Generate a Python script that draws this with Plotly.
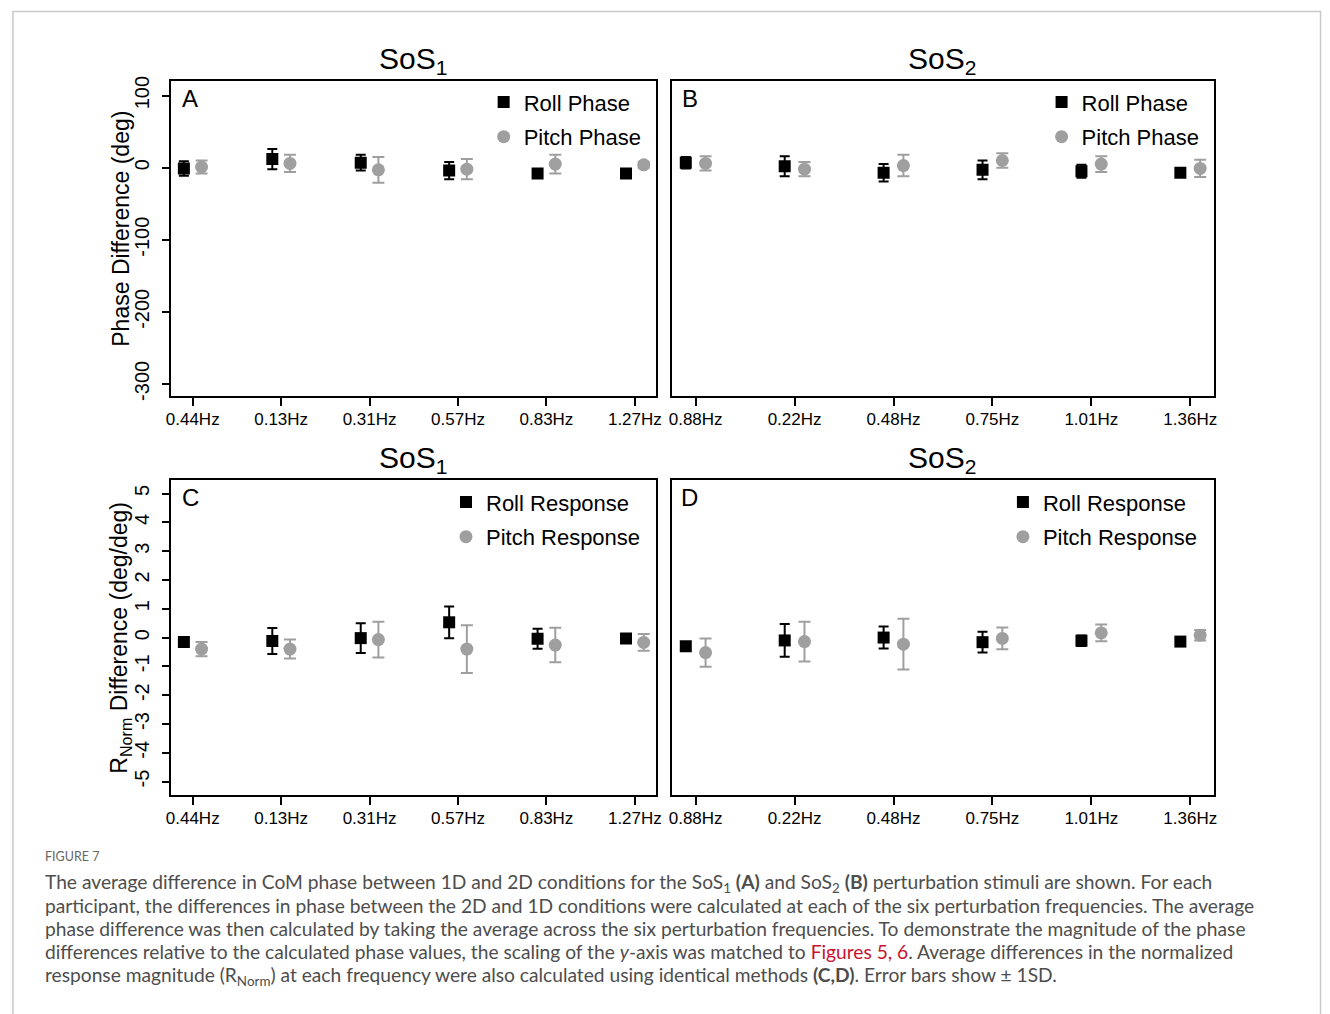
import plotly.graph_objects as go

# ---- data -------------------------------------------------------------
freq_sos1 = ["0.44Hz", "0.13Hz", "0.31Hz", "0.57Hz", "0.83Hz", "1.27Hz"]
freq_sos2 = ["0.88Hz", "0.22Hz", "0.48Hz", "0.75Hz", "1.01Hz", "1.36Hz"]
positions = [1, 2, 3, 4, 5, 6]

# Phase difference (deg), mean and SD
phase_roll_sos1 = [-1, 12, 7, -4, -8, -8]
phase_roll_sos1_sd = [10, 14, 11, 12, 3, 2]
phase_pitch_sos1 = [1, 6, -3, -2, 5, 4]
phase_pitch_sos1_sd = [9, 12, 18, 14, 13, 4]

phase_roll_sos2 = [7, 2, -7, -3, -5, -7]
phase_roll_sos2_sd = [8, 14, 12, 13, 9, 3]
phase_pitch_sos2 = [6, -2, 3, 10, 5, -1]
phase_pitch_sos2_sd = [10, 10, 15, 10, 11, 12]

# R_Norm difference (deg/deg), mean and SD
resp_roll_sos1 = [-0.15, -0.12, -0.02, 0.53, -0.04, -0.03]
resp_roll_sos1_sd = [0.10, 0.45, 0.52, 0.55, 0.35, 0.05]
resp_pitch_sos1 = [-0.40, -0.40, -0.07, -0.40, -0.26, -0.17]
resp_pitch_sos1_sd = [0.25, 0.33, 0.62, 0.83, 0.60, 0.29]

resp_roll_sos2 = [-0.30, -0.10, 0.00, -0.16, -0.11, -0.14]
resp_roll_sos2_sd = [0.10, 0.57, 0.38, 0.36, 0.18, 0.05]
resp_pitch_sos2 = [-0.52, -0.14, -0.23, -0.03, 0.16, 0.08]
resp_pitch_sos2_sd = [0.49, 0.69, 0.88, 0.38, 0.29, 0.18]

phase_ticks = [-300, -200, -100, 0, 100]
resp_ticks = [-5, -4, -3, -2, -1, 0, 1, 2, 3, 4, 5]

# ---- layout helpers ---------------------------------------------------
W, H = 1330, 1014
FONT = "Liberation Sans, Arial, Helvetica, sans-serif"
GRAY = "#9f9f9f"
OFFSET = 0.1


def fx(px):
    return px / W


def fy(py):
    return 1 - py / H


fig = go.Figure()

panels = [
    # (axis suffix, legend id, labels, roll, roll sd, pitch, pitch sd, names)
    ("", "legend", freq_sos1, phase_roll_sos1, phase_roll_sos1_sd,
     phase_pitch_sos1, phase_pitch_sos1_sd, ("Roll Phase", "Pitch Phase")),
    ("2", "legend2", freq_sos2, phase_roll_sos2, phase_roll_sos2_sd,
     phase_pitch_sos2, phase_pitch_sos2_sd, ("Roll Phase", "Pitch Phase")),
    ("3", "legend3", freq_sos1, resp_roll_sos1, resp_roll_sos1_sd,
     resp_pitch_sos1, resp_pitch_sos1_sd, ("Roll Response", "Pitch Response")),
    ("4", "legend4", freq_sos2, resp_roll_sos2, resp_roll_sos2_sd,
     resp_pitch_sos2, resp_pitch_sos2_sd, ("Roll Response", "Pitch Response")),
]

for suffix, leg, labels, roll, roll_sd, pitch, pitch_sd, names in panels:
    fig.add_trace(go.Scatter(
        x=[p - OFFSET for p in positions], y=roll, mode="markers",
        name=names[0], legend=leg, legendgroup=leg + "r",
        marker=dict(symbol="square", size=12, color="black"),
        error_y=dict(type="data", array=roll_sd, color="black",
                     thickness=2, width=5),
        xaxis="x" + suffix, yaxis="y" + suffix,
    ))
    fig.add_trace(go.Scatter(
        x=[p + OFFSET for p in positions], y=pitch, mode="markers",
        name=names[1], legend=leg, legendgroup=leg + "p",
        marker=dict(symbol="circle", size=13, color=GRAY),
        error_y=dict(type="data", array=pitch_sd, color=GRAY,
                     thickness=2, width=6),
        xaxis="x" + suffix, yaxis="y" + suffix,
    ))

# panel boxes (pixel edges)
left_x = (167, 656)
right_x = (672, 1219)
top_y = (77, 395)
bot_y = (480, 798)

axis_common = dict(showline=True, mirror=True, linecolor="black",
                   linewidth=1.5, showgrid=False, zeroline=False,
                   ticks="outside", ticklen=8, tickwidth=1.5,
                   tickcolor="black")


def xaxis(dom, labels, anchor):
    return dict(axis_common, domain=[fx(dom[0]), fx(dom[1])],
                range=[0.76, 6.24], tickmode="array", tickvals=positions,
                ticktext=labels, anchor=anchor, ticklabelstandoff=-1,
                tickfont=dict(family=FONT, size=17, color="black"))


def yaxis(dom, rng, ticks, anchor, show):
    d = dict(axis_common, domain=[fy(dom[1]), fy(dom[0])], range=rng,
             anchor=anchor, tickmode="array", tickvals=ticks,
             ticktext=[str(t) for t in ticks],
             tickangle=-90, ticklabelstandoff=5,
             tickfont=dict(family=FONT, size=20, color="black"))
    if not show:
        d.update(ticks="", showticklabels=False)
    return d


legend_common = dict(font=dict(family=FONT, size=22, color="black"),
                     bgcolor="rgba(0,0,0,0)", borderwidth=0,
                     tracegroupgap=3, xanchor="left", yanchor="top",
                     itemclick=False, itemdoubleclick=False)

fig.update_layout(
    width=W, height=H, margin=dict(l=0, r=0, t=0, b=0),
    paper_bgcolor="white", plot_bgcolor="white", showlegend=True,
    xaxis=xaxis(left_x, freq_sos1, "y"),
    yaxis=yaxis(top_y, [-317, 120], phase_ticks, "x", True),
    xaxis2=xaxis(right_x, freq_sos2, "y2"),
    yaxis2=yaxis(top_y, [-317, 120], phase_ticks, "x2", False),
    xaxis3=xaxis(left_x, freq_sos1, "y3"),
    yaxis3=yaxis(bot_y, [-5.47, 5.46], resp_ticks, "x3", True),
    xaxis4=xaxis(right_x, freq_sos2, "y4"),
    yaxis4=yaxis(bot_y, [-5.47, 5.46], resp_ticks, "x4", False),
    legend=dict(legend_common, x=fx(482), y=fy(77)),
    legend2=dict(legend_common, x=fx(1045), y=fy(77)),
    legend3=dict(legend_common, x=fx(444), y=fy(481)),
    legend4=dict(legend_common, x=fx(1006), y=fy(481)),
)

annotations = []


def text(x, y, s, size, **kw):
    a = dict(x=fx(x), y=fy(y), xref="paper", yref="paper", text=s,
             showarrow=False, font=dict(family=FONT, size=size, color="black"),
             xanchor="center", yanchor="middle")
    a.update(kw)
    annotations.append(a)


# panel titles
text(411, 56, "SoS<sub>1</sub>", 30)
text(945, 56, "SoS<sub>2</sub>", 30)
text(411, 459, "SoS<sub>1</sub>", 30)
text(945, 459, "SoS<sub>2</sub>", 30)

# panel letters
text(186, 94, "A", 24)
text(690, 94, "B", 24)
text(186, 497, "C", 24)
text(690, 497, "D", 24)

# y-axis titles
text(116, 226, "Phase Difference (deg)", 23, textangle=-90)
text(116, 639, "R<sub>Norm</sub> Difference (deg/deg)", 23, textangle=-90)

# caption
CAP = "Lato, Open Sans, sans-serif"
CAP_COLOR = "#4d4d4d"
RED = "#c8102e"
caption_lines = [
    "The average difference in CoM phase between 1D and 2D conditions for the "
    "SoS<sub>1</sub> <b>(A)</b> and SoS<sub>2</sub> <b>(B)</b> perturbation "
    "stimuli are shown. For each",
    "participant, the differences in phase between the 2D and 1D conditions were "
    "calculated at each of the six perturbation frequencies. The average",
    "phase difference was then calculated by taking the average across the six "
    "perturbation frequencies. To demonstrate the magnitude of the phase",
    "differences relative to the calculated phase values, the scaling of the "
    "<i>y</i>-axis was matched to <span style='color:" + RED + "'>Figures 5, 6"
    "</span>. Average differences in the normalized",
    "response magnitude (R<sub>Norm</sub>) at each frequency were also "
    "calculated using identical methods <b>(C,D)</b>. Error bars show ± 1SD.",
]
annotations.append(dict(x=fx(37), y=fy(850), xref="paper", yref="paper",
                        text="FIGURE 7", showarrow=False, xanchor="left",
                        yanchor="top",
                        font=dict(family=CAP, size=12.5, color="#666666")))
for i, line in enumerate(caption_lines):
    annotations.append(dict(x=fx(37), y=fy(872 + i * 23.5), xref="paper",
                            yref="paper", text=line, showarrow=False,
                            xanchor="left", yanchor="top",
                            font=dict(family=CAP, size=19.2, color=CAP_COLOR)))

fig.update_layout(annotations=annotations)

# card outline around the figure
fig.add_shape(type="path", xref="paper", yref="paper",
              path=f"M {fx(7)},-0.05 L {fx(7)},{fy(6.5)} L {fx(1326.5)},{fy(6.5)} "
                   f"L {fx(1326.5)},-0.05",
              line=dict(color="#c9c9c9", width=1.5))

fig.write_html("out.html",
               post_script="document.body.style.margin='0';"
                           "document.body.style.overflow='hidden';")
